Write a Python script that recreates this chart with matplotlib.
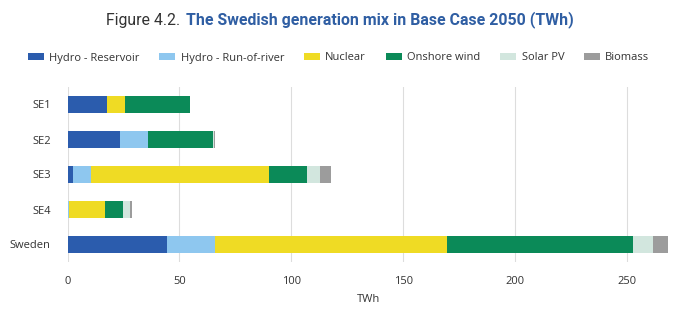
import matplotlib
matplotlib.use("Agg")
import matplotlib.pyplot as plt
from matplotlib.patches import Patch
import numpy as np

regions = ["SE1", "SE2", "SE3", "SE4", "Sweden"]
sources = ["Hydro - Reservoir", "Hydro - Run-of-river", "Nuclear", "Onshore wind", "Solar PV", "Biomass"]
hydro_reservoir = [17.6, 23.3, 2.6, 0.0, 44.6]
hydro_ror = [0.0, 12.6, 7.8, 0.8, 21.2]
nuclear = [8.2, 0.0, 79.7, 15.9, 103.5]
onshore_wind = [29.0, 28.9, 16.8, 8.2, 83.3]
solar_pv = [0.0, 0.4, 5.8, 2.9, 8.9]
biomass = [0.0, 0.5, 4.8, 1.0, 6.5]
x_ticks = [0, 50, 100, 150, 200, 250]

colors = ["#2B5CAD", "#8EC7EF", "#EFDB24", "#0B8A58", "#D2E6DE", "#9C9C9C"]
series = [hydro_reservoir, hydro_ror, nuclear, onshore_wind, solar_pv, biomass]

FONT = ["Open Sans", "DejaVu Sans"]
plt.rcParams["font.family"] = FONT

fig = plt.figure(figsize=(7.0, 3.18), dpi=100)
ax = fig.add_axes([67.5/700, 1-262/318, (670-67.5)/700, (262-87)/318])

y = np.arange(len(regions))
left = np.zeros(len(regions))
for vals, c, name in zip(series, colors, sources):
    v = np.array(vals)
    ax.barh(y, v, left=left, height=0.48, color=c, label=name, linewidth=0)
    left += v

ax.set_ylim(4.5, -0.5)
ax.set_xlim(0, 269)
ax.set_xticks(x_ticks)
ax.set_yticks(y)
ax.set_yticklabels(regions)
ax.tick_params(axis="both", length=0, labelsize=8, colors="#333333")
ax.tick_params(axis="y", pad=12)
ax.tick_params(axis="x", pad=10)
for s in ax.spines.values():
    s.set_visible(False)
ax.grid(axis="x", color="#DDDDDD", linewidth=0.8)
ax.set_axisbelow(True)
ax.set_xlabel("TWh", fontsize=8, color="#333333", labelpad=5)

handles = [Patch(facecolor=c, edgecolor="none") for c in colors]
fig.legend(handles, sources, loc="center", bbox_to_anchor=(338.5/700, 1-58/318), ncol=6,
           frameon=False, fontsize=8, handlelength=1.45, handleheight=0.55,
           handletextpad=0.5, columnspacing=1.75, labelcolor="#333333")

t1 = fig.text(184/700, 1-20/318, "Figure 4.2. ", ha="right", va="center",
              fontsize=11.4, color="#333333", family=["Roboto", "DejaVu Sans"])
t2 = fig.text(186/700, 1-20/318, "The Swedish generation mix in Base Case 2050 (TWh)",
              ha="left", va="center", fontsize=11.4, fontweight="bold", color="#2F5EA3",
              family=["Roboto", "DejaVu Sans"])

fig.savefig("out.png", dpi=100)
